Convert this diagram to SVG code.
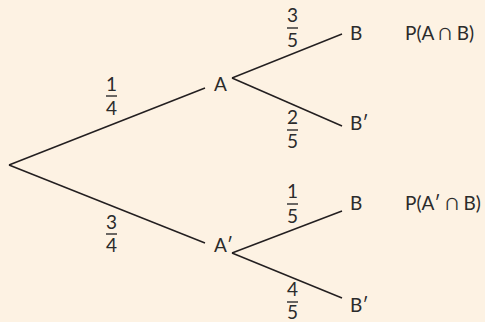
<svg xmlns="http://www.w3.org/2000/svg" width="485" height="322" viewBox="0 0 485 322">
<style>
.t{font-family:Lato,"Open Sans","Liberation Sans",sans-serif;font-size:19px;fill:#2b2b2b}
.c{text-anchor:middle}
.e{stroke:#231f20;stroke-width:1.5;fill:none}
.bar{stroke:#2b2b2b;stroke-width:1.4}
</style>
<rect width="485" height="322" fill="#fdf2e3"/>
<g id="connectors">
<line class="e" x1="9" y1="165" x2="205" y2="88"/>
<line class="e" x1="9" y1="165" x2="205" y2="243"/>
<line class="e" x1="232" y1="78" x2="342" y2="34"/>
<line class="e" x1="232" y1="78" x2="342" y2="126"/>
<line class="e" x1="232" y1="253" x2="342" y2="211"/>
<line class="e" x1="232" y1="253" x2="342" y2="298"/>
</g>
<g id="p14"><text class="t c" x="111.5" y="91">1</text><line class="bar" x1="106" y1="96" x2="117" y2="96"/><text class="t c" x="111.5" y="115">4</text></g>
<g id="p34"><text class="t c" x="111.5" y="229">3</text><line class="bar" x1="106" y1="234" x2="117" y2="234"/><text class="t c" x="111.5" y="252">4</text></g>
<g id="p35"><text class="t c" x="292.5" y="22">3</text><line class="bar" x1="287" y1="28" x2="298" y2="28"/><text class="t c" x="292.5" y="47">5</text></g>
<g id="p25"><text class="t c" x="292.5" y="124">2</text><line class="bar" x1="287" y1="130" x2="298" y2="130"/><text class="t c" x="292.5" y="148">5</text></g>
<g id="p15"><text class="t c" x="292.5" y="198">1</text><line class="bar" x1="287" y1="204" x2="298" y2="204"/><text class="t c" x="292.5" y="223">5</text></g>
<g id="p45"><text class="t c" x="292.5" y="296">4</text><line class="bar" x1="287" y1="302" x2="298" y2="302"/><text class="t c" x="292.5" y="319">5</text></g>
<g id="nA"><text class="t" x="214" y="91">A</text></g>
<g id="nA2"><text class="t" x="214" y="252">A′</text></g>
<g id="nB1"><text class="t" x="350" y="40">B</text></g>
<g id="nB1p"><text class="t" x="350" y="130">B′</text></g>
<g id="nB2"><text class="t" x="350" y="210">B</text></g>
<g id="nB2p"><text class="t" x="350" y="312">B′</text></g>
<g id="r1"><text class="t" x="405" y="40">P(A <tspan font-size="22">∩</tspan> B)</text></g>
<g id="r2"><text class="t" x="405" y="210">P(A′ <tspan font-size="22">∩</tspan> B)</text></g>
</svg>
